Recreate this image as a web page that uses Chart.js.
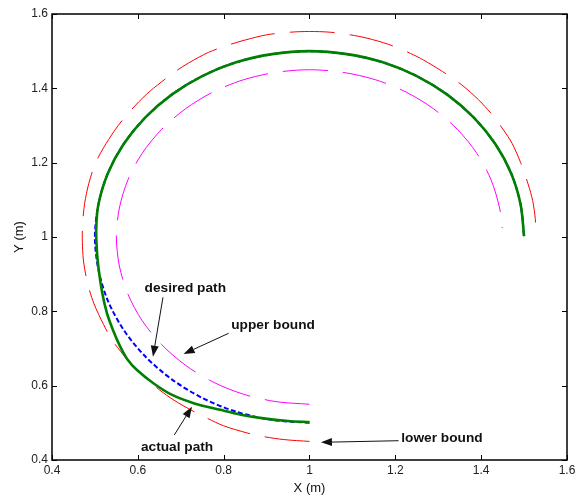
<!DOCTYPE html>
<html><head><meta charset="utf-8">
<script src="https://cdn.jsdelivr.net/npm/chart.js@4"></script>
<style>html,body{margin:0;padding:0;background:#fff}#wrap{width:584px;height:497px;position:relative}</style>
</head><body><div id="wrap"><canvas id="c"></canvas></div>
<script>
// ---- tick values / labels ----
const xTickValues = [0.4, 0.6, 0.8, 1.0, 1.2, 1.4, 1.6];
const xTickLabels = ['0.4', '0.6', '0.8', '1', '1.2', '1.4', '1.6'];
const yTickValues = [0.4, 0.6, 0.8, 1.0, 1.2, 1.4, 1.6];
const yTickLabels = ['0.4', '0.6', '0.8', '1', '1.2', '1.4', '1.6'];
const xTitle = 'X (m)';
const yTitle = 'Y (m)';

// ---- series: actual path (green) ----
const actualX = [1.000, 0.950, 0.893, 0.840, 0.792, 0.730, 0.680, 0.637, 0.598, 0.575, 0.559, 0.542, 0.528, 0.517, 0.509, 0.505, 0.503, 0.508, 0.530, 0.567, 0.617, 0.679, 0.750, 0.829, 0.913, 1.000, 1.087, 1.171, 1.250, 1.321, 1.383, 1.433, 1.470, 1.492, 1.500];
const actualY = [0.502, 0.505, 0.512, 0.522, 0.535, 0.553, 0.575, 0.606, 0.642, 0.672, 0.705, 0.750, 0.795, 0.850, 0.911, 0.956, 1.019, 1.087, 1.171, 1.250, 1.321, 1.383, 1.433, 1.470, 1.492, 1.500, 1.492, 1.470, 1.433, 1.383, 1.321, 1.250, 1.171, 1.087, 1.002];

// ---- series: desired path (blue dashed) ----
const desiredX = [1.000, 0.913, 0.829, 0.750, 0.679, 0.617, 0.567, 0.530, 0.508, 0.500, 0.508, 0.530, 0.567, 0.617, 0.679, 0.750, 0.829, 0.913, 1.000, 1.087, 1.171, 1.250, 1.321, 1.383, 1.433, 1.470, 1.492, 1.500];
const desiredY = [0.500, 0.508, 0.530, 0.567, 0.617, 0.679, 0.750, 0.829, 0.913, 1.000, 1.087, 1.171, 1.250, 1.321, 1.383, 1.433, 1.470, 1.492, 1.500, 1.492, 1.470, 1.433, 1.383, 1.321, 1.250, 1.171, 1.087, 1.000];

// ---- series: upper bound (magenta) ----
const upperX = [1.000, 0.922, 0.846, 0.775, 0.711, 0.655, 0.610, 0.577, 0.557, 0.550, 0.557, 0.577, 0.610, 0.655, 0.711, 0.775, 0.846, 0.922, 1.000, 1.078, 1.154, 1.225, 1.289, 1.345, 1.390, 1.423, 1.443, 1.449];
const upperY = [0.550, 0.557, 0.577, 0.610, 0.655, 0.711, 0.775, 0.846, 0.922, 1.000, 1.078, 1.154, 1.225, 1.289, 1.345, 1.390, 1.423, 1.443, 1.450, 1.443, 1.423, 1.390, 1.345, 1.289, 1.225, 1.154, 1.078, 1.024];

// ---- series: lower bound (red) ----
const lowerX = [1.000, 0.940, 0.893, 0.854, 0.800, 0.757, 0.715, 0.675, 0.637, 0.606, 0.572, 0.540, 0.520, 0.498, 0.483, 0.474, 0.471, 0.471, 0.476, 0.486, 0.501, 0.520, 0.545, 0.563, 0.595, 0.629, 0.687, 0.718, 0.765, 0.815, 0.850, 0.900, 0.955, 1.000, 1.048, 1.095, 1.134, 1.185, 1.235, 1.266, 1.310, 1.355, 1.394, 1.425, 1.452, 1.472, 1.492, 1.510, 1.520, 1.526, 1.528];
const lowerY = [0.450, 0.455, 0.463, 0.473, 0.492, 0.515, 0.540, 0.568, 0.601, 0.633, 0.675, 0.723, 0.765, 0.820, 0.875, 0.930, 0.975, 1.030, 1.090, 1.145, 1.198, 1.240, 1.285, 1.313, 1.355, 1.393, 1.445, 1.468, 1.497, 1.518, 1.530, 1.544, 1.551, 1.553, 1.551, 1.544, 1.535, 1.518, 1.494, 1.476, 1.445, 1.409, 1.369, 1.330, 1.288, 1.252, 1.200, 1.140, 1.098, 1.050, 1.005];

// ---- annotations (data units) ----
const noteTexts = ['desired path', 'upper bound', 'actual path', 'lower bound'];
const noteX = [0.7106, 0.9151, 0.6915, 1.3087];
const noteY = [0.8627, 0.7632, 0.4350, 0.4592];
const arrowFromX = [0.6586, 0.8115, 0.6849, 1.2076];
const arrowFromY = [0.8377, 0.7409, 0.4673, 0.4519];
const arrowToX = [0.6353, 0.7066, 0.7262, 1.0267];
const arrowToY = [0.6779, 0.6852, 0.5434, 0.4476];

const pts = (xs, ys) => xs.map((x, i) => ({x: x, y: ys[i]}));

const FONT = "'Liberation Sans', Arial, sans-serif";

const framePlugin = {
  id: 'frame',
  afterDatasetsDraw(chart) {
    const {ctx, chartArea: a, scales: {x, y}} = chart;
    ctx.save();
    ctx.strokeStyle = '#000';
    ctx.lineWidth = 1.5;
    ctx.strokeRect(a.left, a.top, a.right - a.left, a.bottom - a.top);
    ctx.lineWidth = 1;
    const tl = 5;
    ctx.beginPath();
    xTickValues.forEach(v => {
      const px = Math.round(x.getPixelForValue(v)) + 0.5;
      ctx.moveTo(px, a.bottom); ctx.lineTo(px, a.bottom - tl);
      ctx.moveTo(px, a.top); ctx.lineTo(px, a.top + tl);
    });
    yTickValues.forEach(v => {
      const py = Math.round(y.getPixelForValue(v)) + 0.5;
      ctx.moveTo(a.left, py); ctx.lineTo(a.left + tl, py);
      ctx.moveTo(a.right, py); ctx.lineTo(a.right - tl, py);
    });
    ctx.stroke();

    // annotations
    ctx.fillStyle = '#111';
    ctx.strokeStyle = '#111';
    ctx.font = 'bold 13.7px ' + FONT;
    ctx.textAlign = 'center';
    ctx.textBaseline = 'middle';
    noteTexts.forEach((t, i) => {
      ctx.fillText(t, x.getPixelForValue(noteX[i]), y.getPixelForValue(noteY[i]));
      const x0 = x.getPixelForValue(arrowFromX[i]), y0 = y.getPixelForValue(arrowFromY[i]);
      const x1 = x.getPixelForValue(arrowToX[i]), y1 = y.getPixelForValue(arrowToY[i]);
      const ang = Math.atan2(y1 - y0, x1 - x0);
      const hl = 11, hw = 4;
      const bx = x1 - hl * Math.cos(ang), by = y1 - hl * Math.sin(ang);
      ctx.beginPath();
      ctx.lineWidth = 1;
      ctx.moveTo(x0, y0); ctx.lineTo(bx, by); ctx.stroke();
      ctx.beginPath();
      ctx.moveTo(x1, y1);
      ctx.lineTo(bx + hw * Math.sin(ang), by - hw * Math.cos(ang));
      ctx.lineTo(bx - hw * Math.sin(ang), by + hw * Math.cos(ang));
      ctx.closePath();
      ctx.fill();
    });
    ctx.restore();
  }
};

new Chart(document.getElementById('c'), {
  type: 'scatter',
  data: {
    datasets: [
      {label: 'actual path', data: pts(actualX, actualY), showLine: true, borderColor: '#008000', borderWidth: 2.6, pointRadius: 0, tension: 0.3, fill: false},
      {label: 'desired path', data: pts(desiredX, desiredY), showLine: true, borderColor: '#0000ff', borderWidth: 2, borderDash: [5, 2.5], pointRadius: 0, tension: 0.3, fill: false},
      {label: 'upper bound', data: pts(upperX, upperY), showLine: true, borderColor: '#ff00ff', borderWidth: 1, borderDash: [45, 15], pointRadius: 0, tension: 0.3, fill: false},
      {label: 'lower bound', data: pts(lowerX, lowerY), showLine: true, borderColor: '#ff0000', borderWidth: 1, borderDash: [45, 15], pointRadius: 0, tension: 0.3, fill: false}
    ]
  },
  options: {
    responsive: true,
    maintainAspectRatio: false,
    animation: false,
    layout: {padding: {top: 14, right: 17, left: 0, bottom: 0}},
    plugins: {legend: {display: false}, tooltip: {enabled: false}},
    scales: {
      x: {
        type: 'linear', min: 0.4, max: 1.6,
        afterBuildTicks: s => { s.ticks = xTickValues.map(v => ({value: v})); },
        afterFit: s => { s.height = 37; },
        grid: {display: false, drawTicks: false},
        border: {display: false},
        ticks: {padding: 3, color: '#222', font: {family: FONT, size: 12}, maxRotation: 0,
                callback: (v, i) => xTickLabels[i]},
        title: {display: true, text: xTitle, color: '#111', font: {family: FONT, size: 13}, padding: {top: 0, bottom: 1}}
      },
      y: {
        type: 'linear', min: 0.4, max: 1.6,
        afterBuildTicks: s => { s.ticks = yTickValues.map(v => ({value: v})); },
        afterFit: s => { s.width = 52; },
        grid: {display: false, drawTicks: false},
        border: {display: false},
        ticks: {padding: 4, color: '#222', font: {family: FONT, size: 12},
                callback: (v, i) => yTickLabels[i]},
        title: {display: true, text: yTitle, color: '#111', font: {family: FONT, size: 13}, padding: {top: 12, bottom: 0}}
      }
    }
  },
  plugins: [framePlugin]
});
</script>
</body></html>
